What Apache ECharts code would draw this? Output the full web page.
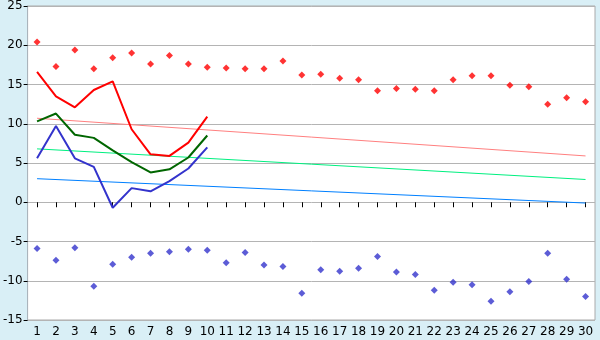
<!DOCTYPE html>
<html>
<head>
<meta charset="utf-8">
<script src="https://cdn.jsdelivr.net/npm/echarts@6/dist/echarts.min.js"></script>
<style>
html,body{margin:0;padding:0;background:#d9eff6;}
#c{width:600px;height:340px;}
</style>
</head>
<body>
<div id="c"></div>
<script>
var days = ['1','2','3','4','5','6','7','8','9','10','11','12','13','14','15','16','17','18','19','20','21','22','23','24','25','26','27','28','29','30'];
var maxPoints = [20.4,17.3,19.4,17.0,18.4,19.0,17.6,18.7,17.6,17.2,17.1,17.0,17.0,18.0,16.2,16.3,15.8,15.6,14.2,14.5,14.4,14.2,15.6,16.1,16.1,14.9,14.7,12.5,13.3,12.8];
var minPoints = [-5.9,-7.4,-5.8,-10.7,-7.9,-7.0,-6.5,-6.3,-6.0,-6.1,-7.7,-6.4,-8.0,-8.2,-11.6,-8.6,-8.8,-8.4,-6.9,-8.9,-9.2,-11.2,-10.2,-10.5,-12.6,-11.4,-10.1,-6.5,-9.8,-12.0];
var maxLine = [16.6,13.5,12.1,14.3,15.4,9.3,6.1,5.9,7.6,10.9];
var meanLine = [10.3,11.3,8.6,8.2,6.6,5.1,3.8,4.2,5.7,8.5];
var minLine = [5.6,9.7,5.6,4.5,-0.7,1.8,1.4,2.7,4.3,7.0];
var maxTrendEnds = [10.7, 5.9];
var meanTrendEnds = [6.8, 2.9];
var minTrendEnds = [3.0, -0.1];
var yTicks = {min: -15, max: 25, interval: 5};

function ends(pair){
  var a = days.map(function(){return null;});
  a[0] = pair[0]; a[days.length-1] = pair[1];
  return a;
}

var chart = echarts.init(document.getElementById('c'), null, {renderer:'canvas'});
chart.setOption({
  animation: false,
  backgroundColor: '#d9eff6',
  grid: {left: 26, right: 5, top: 5, bottom: 20, show: true, backgroundColor: '#ffffff', borderColor: '#aaaaaa', borderWidth: 1},
  xAxis: {
    type: 'category', data: days, boundaryGap: true,
    axisLine: {show: false},
    axisTick: {show: true, alignWithLabel: true, length: 5, lineStyle: {color: '#000'}},
    axisLabel: {color: '#000', fontSize: 12, fontFamily: 'DejaVu Sans', margin: 6, interval: 0},
    splitLine: {show: false}
  },
  yAxis: {
    type: 'value', min: yTicks.min, max: yTicks.max, interval: yTicks.interval,
    axisLine: {show: true, lineStyle: {color: '#aab4bc'}},
    axisTick: {show: true, length: 4, lineStyle: {color: '#000'}},
    axisLabel: {color: '#000', fontSize: 12, fontFamily: 'DejaVu Sans', margin: 5},
    splitLine: {show: true, lineStyle: {color: '#b4b4b4', width: 1}}
  },
  series: [
    {type: 'line', data: ends(maxTrendEnds), connectNulls: true, showSymbol: false, lineStyle: {color: '#ff8080', width: 1}, z: 2},
    {type: 'line', data: ends(meanTrendEnds), connectNulls: true, showSymbol: false, lineStyle: {color: '#00f080', width: 1}, z: 2},
    {type: 'line', data: ends(minTrendEnds), connectNulls: true, showSymbol: false, lineStyle: {color: '#0080ff', width: 1}, z: 2},
    {type: 'line', data: maxLine, showSymbol: false, lineStyle: {color: '#ff0000', width: 2}, z: 3},
    {type: 'line', data: meanLine, showSymbol: false, lineStyle: {color: '#006600', width: 2}, z: 3},
    {type: 'line', data: minLine, showSymbol: false, lineStyle: {color: '#3333cc', width: 2}, z: 3},
    {type: 'scatter', data: maxPoints, symbol: 'diamond', symbolSize: 7, itemStyle: {color: '#ff0000'}, z: 4},
    {type: 'scatter', data: minPoints, symbol: 'diamond', symbolSize: 7, itemStyle: {color: '#3333cc'}, z: 4}
  ]
});
</script>
</body>
</html>
